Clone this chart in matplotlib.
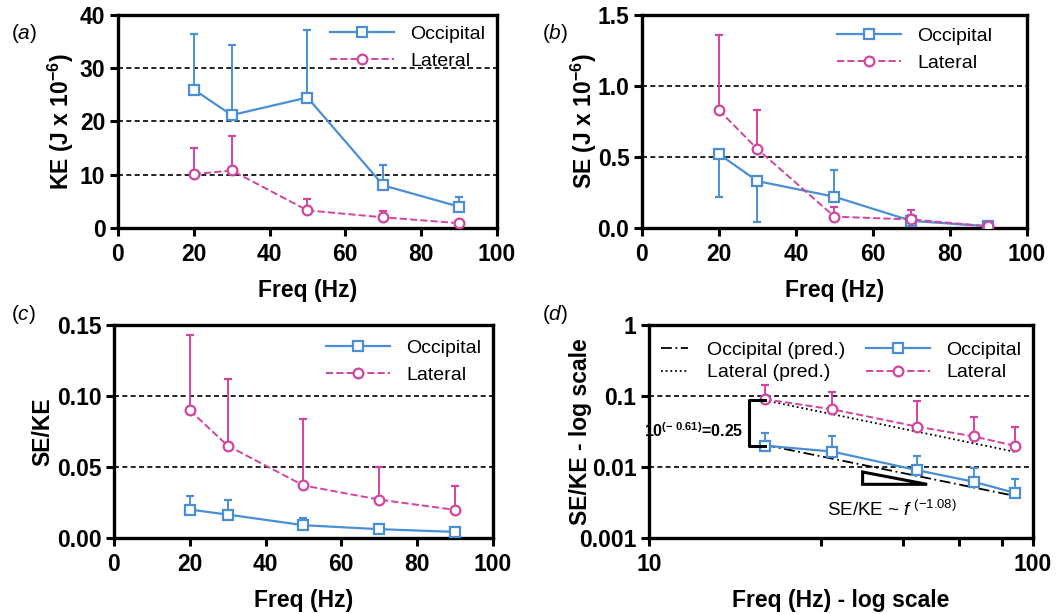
import numpy as np
import matplotlib
matplotlib.use('Agg')
import matplotlib.pyplot as plt
from matplotlib.lines import Line2D

plt.rcParams['font.family'] = ['Liberation Sans', 'DejaVu Sans']
plt.rcParams['mathtext.fontset'] = 'custom'
plt.rcParams['mathtext.rm'] = 'Liberation Sans'
plt.rcParams['mathtext.bf'] = 'Liberation Sans:bold'
plt.rcParams['mathtext.it'] = 'Liberation Sans:italic'

# data
freq = [20, 30, 50, 70, 90]

ke_occ = [26.0, 21.2, 24.5, 8.0, 4.0]
ke_occ_err = [10.5, 13.1, 12.7, 3.9, 1.8]
ke_lat = [10.1, 10.8, 3.3, 2.0, 0.9]
ke_lat_err = [4.9, 6.5, 2.1, 1.2, 0.1]

se_occ = [0.52, 0.33, 0.22, 0.05, 0.012]
se_occ_lo = [0.30, 0.29, 0.0, 0.0, 0.0]
se_occ_hi = [0.0, 0.0, 0.19, 0.04, 0.005]
se_lat = [0.83, 0.555, 0.08, 0.06, 0.012]
se_lat_err = [0.53, 0.275, 0.07, 0.065, 0.005]

ratio_occ = [0.0200, 0.0165, 0.0090, 0.0062, 0.0043]
ratio_occ_err = [0.0098, 0.0105, 0.0054, 0.0035, 0.0025]
ratio_lat = [0.090, 0.065, 0.037, 0.027, 0.0198]
ratio_lat_err = [0.053, 0.047, 0.047, 0.023, 0.017]

pred_f = [20, 90]
occ_pred = [0.0205, 0.0039]
lat_pred = [0.087, 0.0163]

BLUE = '#4a8fd6'
PINK = '#d2449f'
TICK_FS = 16.5
LAB_FS = 16.5
MS = 7


def style_axes(ax, xlim, ylim, yticks, ylabels):
    ax.set_xlim(*xlim)
    ax.set_ylim(*ylim)
    ax.set_yticks(yticks)
    ax.set_yticklabels(ylabels)
    for s in ['top', 'right', 'left', 'bottom']:
        ax.spines[s].set_linewidth(2.4)
    ax.tick_params(width=2.2, length=6, labelsize=TICK_FS, pad=3)
    ax.tick_params(axis='x', pad=5)
    for lab in ax.get_xticklabels() + ax.get_yticklabels():
        lab.set_fontweight('bold')
    for t in yticks[1:-1]:
        ax.axhline(t, color='black', ls=(0, (3, 2)), lw=1.2, zorder=1)


def plot_pair(ax, yo, yo_err, yl, yl_err):
    ax.errorbar(freq, yo, yerr=yo_err, color=BLUE, ls='-', lw=1.6,
                marker='s', ms=MS, mfc='white', mec=BLUE, mew=1.6,
                capsize=3, elinewidth=1.4, capthick=1.4, zorder=3)
    ax.errorbar(freq, yl, yerr=yl_err, color=PINK, ls='--', lw=1.4,
                marker='o', ms=MS, mfc='white', mec=PINK, mew=1.6,
                capsize=3, elinewidth=1.4, capthick=1.4, zorder=3)


def add_legend(ax, anchor, spacing=0.5):
    h = [Line2D([], [], color=BLUE, ls='-', lw=1.6, marker='s', ms=MS, mfc='white', mew=1.6),
         Line2D([], [], color=PINK, ls='--', lw=1.4, marker='o', ms=MS, mfc='white', mew=1.6)]
    leg = ax.legend(h, ['Occipital', 'Lateral'], loc='upper right', bbox_to_anchor=anchor,
                    frameon=False, fontsize=14, handlelength=3.3, handletextpad=0.85,
                    labelspacing=spacing, borderaxespad=0)
    return leg


fig = plt.figure(figsize=(10.62, 6.14), dpi=100)

# (a)
ax = fig.add_axes([0.111, 0.6287, 0.357, 0.3469])
plot_pair(ax, ke_occ, [np.zeros(5), ke_occ_err], ke_lat, [np.zeros(5), ke_lat_err])
style_axes(ax, (0, 100), (0, 40), [0, 10, 20, 30, 40], ['0', '10', '20', '30', '40'])
ax.set_xticks([0, 20, 40, 60, 80, 100])
ax.set_xlabel('Freq (Hz)', fontsize=LAB_FS, fontweight='bold', labelpad=9)
ax.set_ylabel(r'KE (J x 10$^{\mathbf{-6}}$)', fontsize=LAB_FS, fontweight='bold', labelpad=3)
add_legend(ax, (0.99, 0.99))

# (b)
ax = fig.add_axes([0.6045, 0.6287, 0.3625, 0.3469])
plot_pair(ax, se_occ, [se_occ_lo, se_occ_hi], se_lat, [np.zeros(5), se_lat_err])
style_axes(ax, (0, 100), (0, 1.5), [0.0, 0.5, 1.0, 1.5], ['0.0', '0.5', '1.0', '1.5'])
ax.set_xticks([0, 20, 40, 60, 80, 100])
ax.set_xlabel('Freq (Hz)', fontsize=LAB_FS, fontweight='bold', labelpad=9)
ax.set_ylabel(r'SE (J x 10$^{\mathbf{-6}}$)', fontsize=LAB_FS, fontweight='bold', labelpad=-1)
add_legend(ax, (0.93, 0.98))

# (c)
ax = fig.add_axes([0.1073, 0.1238, 0.3569, 0.3469])
plot_pair(ax, ratio_occ, [np.zeros(5), ratio_occ_err], ratio_lat, [np.zeros(5), ratio_lat_err])
style_axes(ax, (0, 100), (0, 0.15), [0.0, 0.05, 0.10, 0.15], ['0.00', '0.05', '0.10', '0.15'])
ax.set_xticks([0, 20, 40, 60, 80, 100])
ax.set_xlabel('Freq (Hz)', fontsize=LAB_FS, fontweight='bold', labelpad=9)
ax.set_ylabel('SE/KE', fontsize=LAB_FS, fontweight='bold', labelpad=2)
add_legend(ax, (0.99, 0.97))

# (d)
ax = fig.add_axes([0.6111, 0.1238, 0.3616, 0.3469])
ax.set_xscale('log')
ax.set_yscale('log')
p1, = ax.plot(pred_f, occ_pred, color='black', ls=(0, (6, 2, 1, 2)), lw=1.3, zorder=2)
p2, = ax.plot(pred_f, lat_pred, color='black', ls=(0, (1, 1.6)), lw=1.3, zorder=2)
plot_pair(ax, ratio_occ, [np.zeros(5), ratio_occ_err], ratio_lat, [np.zeros(5), ratio_lat_err])
style_axes(ax, (10, 100), (0.001, 1), [0.001, 0.01, 0.1, 1], ['0.001', '0.01', '0.1', '1'])
ax.yaxis.set_minor_locator(matplotlib.ticker.NullLocator())
ax.set_xticks([10, 100])
ax.set_xticklabels(['10', '100'])
for lab in ax.get_xticklabels():
    lab.set_fontweight('bold')
ax.set_xticks([28, 46, 64, 83], minor=True)
ax.tick_params(which='minor', width=2.2, length=6, labelbottom=False)
ax.set_xlabel('Freq (Hz) - log scale', fontsize=LAB_FS, fontweight='bold', labelpad=9)
ax.set_ylabel('SE/KE - log scale', fontsize=LAB_FS, fontweight='bold', labelpad=-9)
leg1 = ax.legend([p1, p2], ['Occipital (pred.)', 'Lateral (pred.)'], loc='upper left',
                 bbox_to_anchor=(0.01, 0.96), frameon=False, fontsize=14,
                 handlelength=1.4, handletextpad=1.0, labelspacing=0.25, borderaxespad=0)
ax.add_artist(leg1)
add_legend(ax, (0.99, 0.96), spacing=0.25)

# bracket and slope triangle
ax.plot([20, 18.2, 18.2, 20], [0.089, 0.089, 0.0199, 0.0199], color='black', lw=2.2, zorder=4)
ax.text(17.6, 0.033, r'10$^{\mathbf{(-\ 0.61)}}$=0.25', fontsize=11.5, fontweight='bold',
        ha='right', va='center')
ax.fill([36, 36, 53], [0.0085, 0.0057, 0.0057], facecolor='none', edgecolor='black', lw=2.2, zorder=4)
ax.text(29, 0.0025, r'SE/KE ~ $\mathit{f}^{\ \mathrm{(-1.08)}}$', fontsize=13.5, ha='left', va='center')

# panel labels
for x, y, s in [(0.01, 0.945, 'a'), (0.51, 0.945, 'b'), (0.01, 0.487, 'c'), (0.51, 0.487, 'd')]:
    fig.text(x, y, '($\\mathit{' + s + '}$)', fontsize=15, va='center')

fig.savefig('out.png', dpi=100)
